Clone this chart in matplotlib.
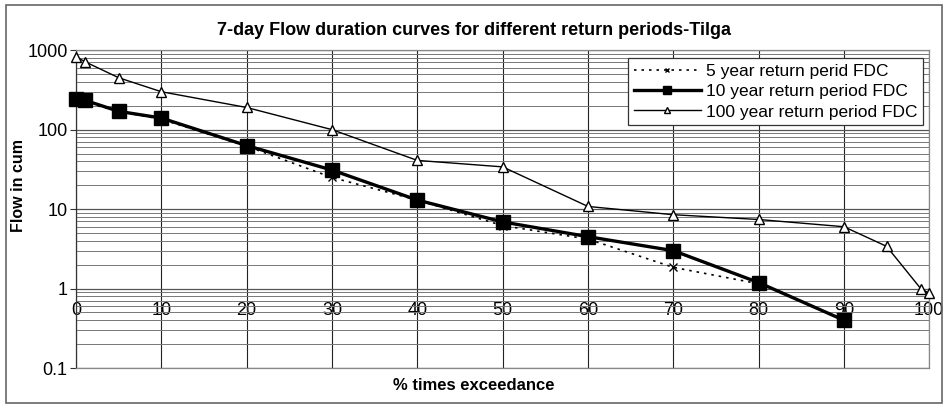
import matplotlib
matplotlib.use("Agg")
import matplotlib.pyplot as plt
from matplotlib.patches import Rectangle
from matplotlib.ticker import LogLocator, FixedLocator, NullFormatter

plt.rcParams['font.family'] = ['Liberation Sans', 'DejaVu Sans']

# % times exceedance and 7-day flows (cumecs)
x5 = [0, 1, 5, 10, 20, 30, 40, 50, 60, 70, 80]
q5 = [230, 220, 170, 135, 62, 25, 13, 6.2, 4.2, 1.85, 1.15]

x10 = [0, 1, 5, 10, 20, 30, 40, 50, 60, 70, 80, 90]
q10 = [240, 235, 170, 140, 63, 31, 13, 6.9, 4.5, 3.0, 1.19, 0.40]

x100 = [0, 1, 5, 10, 20, 30, 40, 50, 60, 70, 80, 90, 95, 99, 100]
q100 = [830, 720, 450, 300, 190, 100, 41, 34, 10.8, 8.5, 7.4, 6.0, 3.4, 1.0, 0.87]

xticks = [0, 10, 20, 30, 40, 50, 60, 70, 80, 90, 100]
yticks = [0.1, 1, 10, 100, 1000]
ytick_labels = ["0.1", "1", "10", "100", "1000"]

fig = plt.figure(figsize=(9.48, 4.08), dpi=100)
fig.patches.append(Rectangle((0.006, 0.012), 0.988, 0.975, transform=fig.transFigure,
                             fill=False, edgecolor="#666666", linewidth=1.2))

ax = fig.add_axes([0.0802, 0.098, 0.9, 0.779])
ax.set_yscale("log")
ax.set_xlim(0, 100)
ax.set_ylim(0.1, 1000)

ax.yaxis.set_major_locator(FixedLocator(yticks))
ax.set_yticks(yticks, ytick_labels)
ax.yaxis.set_minor_locator(LogLocator(base=10, subs=range(2, 10)))
ax.yaxis.set_minor_formatter(NullFormatter())
ax.tick_params(axis="y", which="major", labelsize=13, length=4, color="#333333", pad=2)
ax.tick_params(axis="y", which="minor", length=0)

ax.set_xticks(xticks)
ax.tick_params(axis="x", which="both", length=0, labelbottom=False)

ax.grid(True, which="major", axis="y", color="#555555", linewidth=0.9)
ax.grid(True, which="minor", axis="y", color="#777777", linewidth=0.7)
ax.grid(True, which="major", axis="x", color="#222222", linewidth=0.8)

for s in ax.spines.values():
    s.set_color("#888888")
    s.set_linewidth(0.9)
ax.spines["left"].set_color("#333333")

ax.plot(x5, q5, linestyle=(0, (1.5, 3)), color="black", linewidth=1.2,
        marker="x", markersize=6, markeredgewidth=1.0, label="5 year return perid FDC",
        zorder=3, clip_on=False)
ax.plot(x10, q10, linestyle="-", color="black", linewidth=2.4,
        marker="s", markersize=10, label="10 year return period FDC", zorder=4, clip_on=False)
ax.plot(x100, q100, linestyle="-", color="black", linewidth=1.0,
        marker="^", markersize=7, markerfacecolor="white", markeredgewidth=1.0,
        label="100 year return period FDC", zorder=3, clip_on=False)

# category labels sit where the horizontal axis crosses inside the plot area
sec = ax.secondary_xaxis(0.215)
sec.set_xticks(xticks)
sec.tick_params(length=0, labelsize=13, pad=2)
sec.spines["bottom"].set_visible(False)

leg = ax.legend(loc="upper right", bbox_to_anchor=(0.997, 0.985), fontsize=12.5,
                frameon=True, fancybox=False, edgecolor="#333333", framealpha=1,
                borderpad=0.3, labelspacing=0.3, handlelength=3.9, handletextpad=0.3,
                markerscale=0.6, borderaxespad=0.2)
leg.get_frame().set_linewidth(0.9)

fig.text(0.5, 0.925, "7-day Flow duration curves for different return periods-Tilga",
         ha="center", va="center", fontsize=13, fontweight="bold")
fig.text(0.5, 0.055, "% times exceedance", ha="center", va="center",
         fontsize=12, fontweight="bold")
fig.text(0.02, 0.545, "Flow in cum", ha="center", va="center", rotation=90,
         fontsize=11.5, fontweight="bold")

fig.savefig("out.png", dpi=100)
